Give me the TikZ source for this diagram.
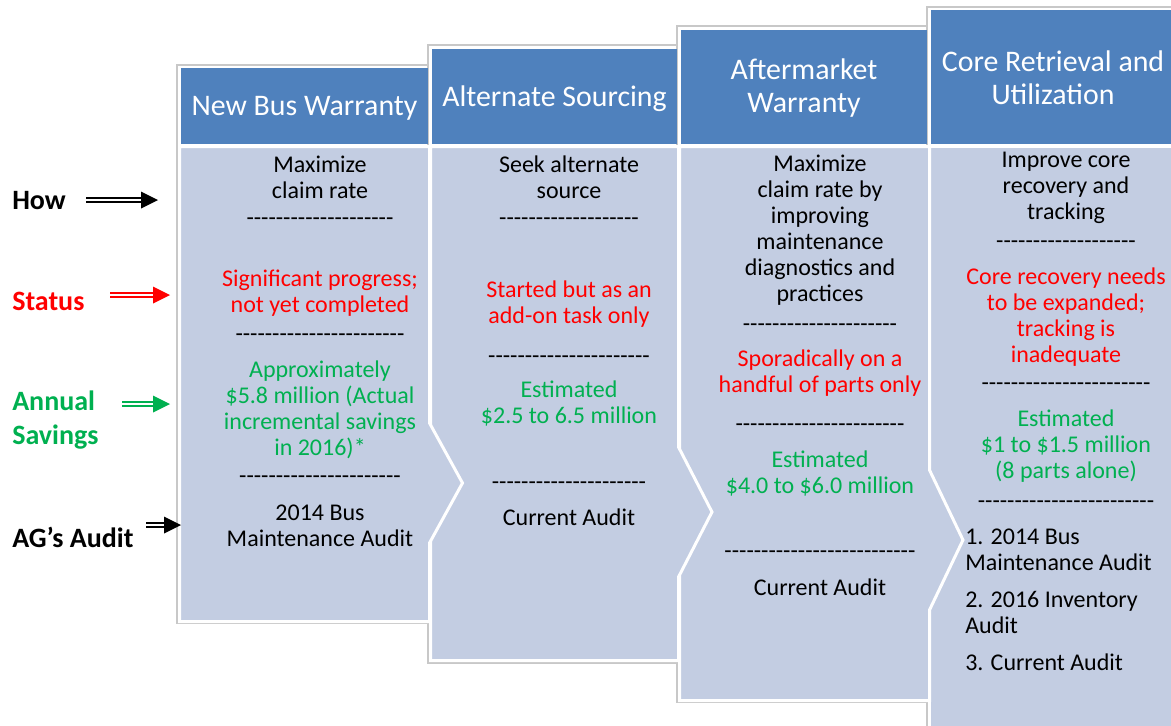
\documentclass[tikz,border=0pt]{standalone}
\usepackage{fontspec}
\setmainfont{Carlito}
\usetikzlibrary{calc}
\definecolor{hdr}{HTML}{4F81BD}
\definecolor{bdy}{HTML}{C3CDE2}
\definecolor{frm}{HTML}{C8C8C8}
\definecolor{myred}{HTML}{FF0000}
\definecolor{mygreen}{HTML}{00B050}
\newcount\dcnt
\newcommand\dashes[1]{\dcnt=#1\relax\loop -\kern0pt\advance\dcnt by -1\relax\ifnum\dcnt>0 \repeat}
\begin{document}
\begin{tikzpicture}[x=0.75pt,y=-0.75pt,
  bt/.style={font=\fontsize{18}{19.5}\selectfont, align=center, inner sep=0pt},
  ht/.style={font=\fontsize{22.4}{24.75}\selectfont, text=white, align=center, inner sep=0pt},
  lab/.style={font=\fontsize{21}{25.5}\selectfont\bfseries, align=left, inner sep=0pt, anchor=west},
  colframe/.style={draw=frm, fill=white, line width=0.8pt},
  colbody/.style={fill=bdy, draw=white, line width=2.25pt, line join=miter},
  colhead/.style={fill=hdr},
  dbl/.style={double=white, double distance=1.8pt, line width=1pt}
]
\useasboundingbox (0,0) rectangle (1171,725);
\clip (0,0) rectangle (1171,725);
% frames
\draw[colframe] (927,7) rectangle (1185,740);
\draw[colframe] (677,26) rectangle (927,702);
\draw[colframe] (428,45) rectangle (677,663);
\draw[colframe] (177,65) rectangle (428,623);
% bodies
\draw[colbody] (929.5,146.5) -- (1190,146.5) -- (1190,745) -- (929.5,745) -- cycle;
\draw[colbody] (679.5,146.5) -- (929.5,146.5) -- (929.5,470) -- (963,540) -- (929.5,610) -- (929.5,700.5) -- (679.5,700.5) -- cycle;
\draw[colbody] (430.5,146.5) -- (678.5,146.5) -- (678.5,447) -- (712,512) -- (678.5,577) -- (678.5,660.5) -- (430.5,660.5) -- cycle;
\draw[colbody] (179.5,146.5) -- (429.5,146.5) -- (429.5,423) -- (462.5,483) -- (429.5,543) -- (429.5,621.5) -- (179.5,621.5) -- cycle;
% headers
\fill[colhead] (181,68) rectangle (428,144);
\fill[colhead] (432,49) rectangle (677,144);
\fill[colhead] (681,30) rectangle (927,144);
\fill[colhead] (931,10) rectangle (1185,144);
\node[ht] (h1) at (304.5,108) {New Bus Warranty};
\node[ht] (h2) at (554.5,99) {Alternate Sourcing};
\node[ht] (h3) at (804,88.5) {Aftermarket\\Warranty};
\node[ht] (h4) at (1053,77.5) {Core Retrieval and\\Utilization};
% column 1
\node[bt] (c1how) at (320,177.5) {Maximize\\claim rate};
\node[bt] (c1d1) at (320,222) {\dashes{20}};
\node[bt, text=myred] (c1st) at (320,293.5) {Significant progress;\\not yet completed};
\node[bt] (c1d2) at (320,338) {\dashes{23}};
\node[bt, text=mygreen] (c1sv) at (320,409.5) {Approximately\\\$5.8 million (Actual\\incremental savings\\in 2016)*};
\node[bt] (c1d3) at (320,480) {\dashes{22}};
\node[bt] (c1au) at (320,525.5) {2014 Bus\\Maintenance Audit};
% column 2
\node[bt] (c2how) at (569,177.5) {Seek alternate\\source};
\node[bt] (c2d1) at (569,222) {\dashes{19}};
\node[bt, text=myred] (c2st) at (569,304.5) {Started but as an\\add-on task only};
\node[bt] (c2d2) at (569,360) {\dashes{22}};
\node[bt, text=mygreen] (c2sv) at (569,403.5) {Estimated\\\$2.5 to 6.5 million};
\node[bt] (c2d3) at (569,485.5) {\dashes{21}};
\node[bt] (c2au) at (569,517) {Current Audit};
% column 3
\node[bt] (c3how) at (820,230.5) {Maximize\\claim rate by\\improving\\maintenance\\diagnostics and\\practices};
\node[bt] (c3d1) at (820,328) {\dashes{21}};
\node[bt, text=myred] (c3st) at (820,373.5) {Sporadically on a\\handful of parts only};
\node[bt] (c3d2) at (820,427.5) {\dashes{23}};
\node[bt, text=mygreen] (c3sv) at (820,473.5) {Estimated\\\$4.0 to \$6.0 million};
\node[bt] (c3d3) at (820,555) {\dashes{26}};
\node[bt] (c3au) at (820,587) {Current Audit};
% column 4
\node[bt] (c4how) at (1066,188) {Improve core\\recovery and\\tracking};
\node[bt] (c4d1) at (1066,245) {\dashes{19}};
\node[bt, text=myred] (c4st) at (1066,317) {Core recovery needs\\to be expanded;\\tracking is\\inadequate};
\node[bt] (c4d2) at (1066,387) {\dashes{23}};
\node[bt, text=mygreen] (c4sv) at (1066,446) {Estimated\\\$1 to \$1.5 million\\(8 parts alone)};
\node[bt] (c4d3) at (1066,505) {\dashes{24}};
\node[bt, align=left, anchor=west] (c4a1) at (965,549.5) {1. 2014 Bus\\Maintenance Audit};
\node[bt, align=left, anchor=west] (c4a2) at (965,612.5) {2. 2016 Inventory\\Audit};
\node[bt, align=left, anchor=west] (c4a3) at (965,662) {3. Current Audit};
% left labels
\node[lab] (lhow) at (12,201) {How};
\node[lab, text=myred] (lstat) at (12,301) {Status};
\node[lab, text=mygreen] (lsav) at (12,420) {Annual\\Savings};
\node[lab] (laud) at (12,537) {AG’s Audit};
% arrows
\coordinate (aHs) at (86,200);  \coordinate (aHt) at (158,200);
\coordinate (aSs) at (110,295); \coordinate (aSt) at (170,295);
\coordinate (aVs) at (122,404); \coordinate (aVt) at (170,404);
\coordinate (aAs) at (146,525); \coordinate (aAt) at (181,525);
\draw[dbl, draw=black] (aHs) -- ($(aHt)+(-16,0)$);
\fill[black] (aHt) -- ++(-17,-8.5) -- ++(0,17) -- cycle;
\draw[dbl, draw=myred] (aSs) -- ($(aSt)+(-16,0)$);
\fill[myred] (aSt) -- ++(-17,-8.5) -- ++(0,17) -- cycle;
\draw[dbl, draw=mygreen] (aVs) -- ($(aVt)+(-16,0)$);
\fill[mygreen] (aVt) -- ++(-17,-8.5) -- ++(0,17) -- cycle;
\draw[dbl, draw=black] (aAs) -- ($(aAt)+(-16,0)$);
\fill[black] (aAt) -- ++(-17,-8.5) -- ++(0,17) -- cycle;
\end{tikzpicture}
\end{document}
